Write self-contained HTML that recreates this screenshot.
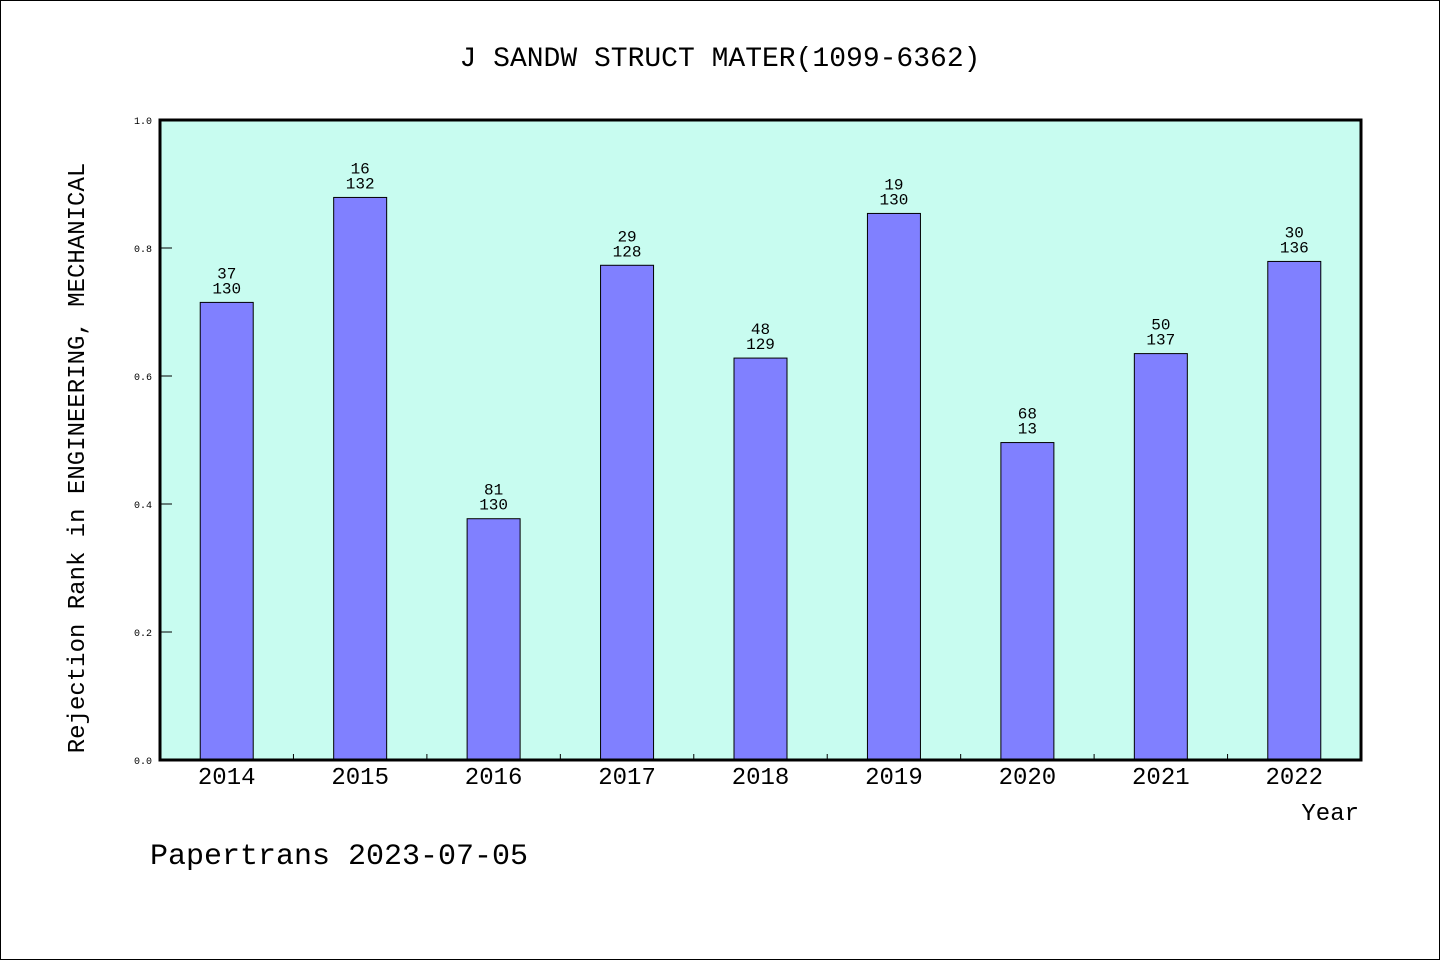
<!DOCTYPE html>
<html><head><meta charset="utf-8"><style>
body{margin:0;background:#fff}
svg{display:block}
text{font-family:"Liberation Mono","WenQuanYi Zen Hei",monospace}
</style></head><body>
<svg id="chart" width="1440" height="960">
<rect x="0.5" y="0.5" width="1439" height="959" fill="#fff" stroke="#000"/>
<text x="720" y="66" text-anchor="middle" font-size="28">J SANDW STRUCT MATER(1099-6362)</text>
<rect x="160" y="120" width="1201" height="640" fill="#c8fcf0"/>
<g id="bars"></g>
<g id="axes"></g>
<rect x="160" y="120" width="1201" height="640" fill="none" stroke="#000" stroke-width="3"/>
<text transform="translate(84,458) rotate(-90)" text-anchor="middle" font-size="24">Rejection Rank in ENGINEERING, MECHANICAL</text>
<text x="1359" y="820" text-anchor="end" font-size="24">Year</text>
<text x="150" y="864" font-size="30">Papertrans 2023-07-05</text>
</svg>
<script>
const categories=["2014","2015","2016","2017","2018","2019","2020","2021","2022"];
const values=[0.715,0.879,0.377,0.773,0.628,0.854,0.496,0.635,0.779];
const rankLabels=["37","16","81","29","48","19","68","50","30"];
const totalLabels=["130","132","130","128","129","130","13","137","136"];
const yTicks=[0,0.2,0.4,0.6,0.8,1.0];
const X0=160,X1=1361,Y0=760,Y1=120;
const step=(X1-X0)/categories.length;
const xc=i=>X0+step*(i+0.5);
const y=v=>Y0-(Y0-Y1)*v;
const NS="http://www.w3.org/2000/svg";
function mk(tag,attrs,parent,txt){const e=document.createElementNS(NS,tag);for(const k in attrs)e.setAttribute(k,attrs[k]);if(txt!==undefined)e.textContent=txt;parent.appendChild(e);return e;}
const bars=document.getElementById('bars'),axes=document.getElementById('axes');
const bw=53;
categories.forEach((c,i)=>{
  const r=mk('rect',{x:xc(i)-bw/2,y:y(values[i]),width:bw,height:Y0-y(values[i]),fill:'#8080ff',stroke:'#000','stroke-width':1},bars);
  
  
  const t1=mk('text',{x:xc(i),y:y(values[i])-24,'text-anchor':'middle','font-size':16},bars,rankLabels[i]);
  
  
  const t2=mk('text',{x:xc(i),y:y(values[i])-9,'text-anchor':'middle','font-size':16},bars,totalLabels[i]);
  
  
  const xl=mk('text',{x:xc(i),y:784,'text-anchor':'middle','font-size':24},axes,c);
  
  
  if(i>0){const tk=mk('line',{x1:X0+step*i,x2:X0+step*i,y1:Y0,y2:Y0-6,stroke:'#000'},axes);
  
  }
});
yTicks.forEach(v=>{
  const tk=mk('line',{x1:X0,x2:X0+12,y1:y(v),y2:y(v),stroke:'#000'},axes);
  
  
  const tl=mk('text',{x:152,y:y(v)+4,'text-anchor':'end','font-size':10},axes,v.toFixed(1));
  
  
});
</script>
</body></html>
